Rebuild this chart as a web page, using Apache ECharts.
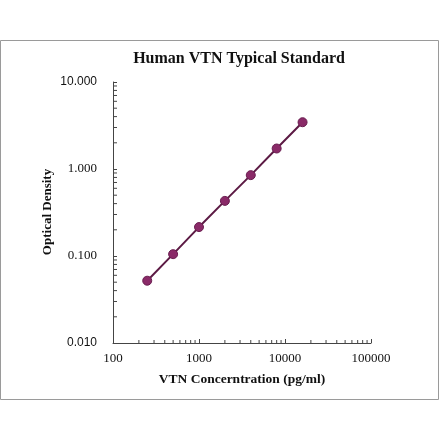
<!DOCTYPE html>
<html>
<head>
<meta charset="utf-8">
<script src="https://cdn.jsdelivr.net/npm/echarts@6/dist/echarts.min.js"></script>
<style>
html,body{margin:0;padding:0;background:#fff;}
#main{width:440px;height:441px;}
</style>
</head>
<body>
<div id="main"></div>
<script>
var concentrations = [250, 500, 1000, 2000, 4000, 8000, 16000];
var opticalDensity = [0.052, 0.105, 0.215, 0.43, 0.85, 1.72, 3.45];
var xMinorTicks = [200,300,400,500,600,700,800,900,2000,3000,4000,5000,6000,7000,8000,9000,20000,30000,40000,50000,60000,70000,80000,90000];
var yMinorTicks = [0.02,0.03,0.04,0.05,0.06,0.07,0.08,0.09,0.2,0.3,0.4,0.5,0.6,0.7,0.8,0.9,2,3,4,5,6,7,8,9];
var sansLabels = [10, 0.01];
var yAxisTitle = 'Optical Density';

var chart = echarts.init(document.getElementById('main'));
var serif = 'Liberation Serif';
var sans = 'Liberation Sans';

function renderMinorTicks(params, api){
  var children = [];
  xMinorTicks.forEach(function(v){
    var p = api.coord([v, 0.01]);
    children.push({type:'line', shape:{x1:p[0], y1:p[1], x2:p[0], y2:p[1]-3}, style:{stroke:'#444', lineWidth:1}});
  });
  yMinorTicks.forEach(function(v){
    var p = api.coord([100, v]);
    children.push({type:'line', shape:{x1:p[0], y1:p[1], x2:p[0]+4, y2:p[1]}, style:{stroke:'#444', lineWidth:1}});
  });
  return {type:'group', children:children};
}

chart.setOption({
  animation:false,
  backgroundColor:'#fff',
  title:{
    text:'Human VTN Typical Standard',
    left:234, top:46, textAlign:'center',
    textStyle:{fontFamily:serif, fontWeight:'bold', fontSize:16, color:'#111'}
  },
  graphic:[
    {type:'rect', shape:{x:0.5, y:40.5, width:438, height:359}, style:{fill:'none', stroke:'#9a9a9a', lineWidth:1}, silent:true, z:-1},
    {type:'text', x:48, y:212, rotation:Math.PI/2, silent:true,
     style:{text:yAxisTitle, font:'bold 13px "Liberation Serif"', fill:'#111',
            align:'center', verticalAlign:'middle', textAlign:'center', textVerticalAlign:'middle'}}
  ],
  grid:{left:113, right:69, top:82, bottom:98},
  xAxis:{
    type:'log', logBase:10, min:100, max:100000,
    name:'VTN Concerntration (pg/ml)', nameLocation:'middle', nameGap:30, nameMoveOverlap:false,
    nameTextStyle:{fontFamily:serif, fontWeight:'bold', fontSize:13.5, color:'#111'},
    axisLine:{lineStyle:{color:'#444', width:1}},
    axisTick:{show:true, inside:true, length:4, lineStyle:{color:'#444'}},
    axisLabel:{fontFamily:serif, fontSize:13, color:'#111', margin:9,
      formatter:function(v){ return String(Math.round(v)); }},
    splitLine:{show:false}
  },
  yAxis:{
    type:'log', logBase:10, min:0.01, max:10,
    axisLine:{show:true, lineStyle:{color:'#444', width:1}},
    axisTick:{show:true, inside:true, length:4, lineStyle:{color:'#444'}},
    axisLabel:{
      margin:16, color:'#111',
      formatter:function(v){
        var s = v.toFixed(3);
        var isSans = sansLabels.some(function(t){return Math.abs(t - v) < 1e-9;});
        return isSans ? '{s|' + s + '}' : '{t|' + s + '}';
      },
      rich:{
        s:{fontFamily:sans, fontSize:12, color:'#111'},
        t:{fontFamily:serif, fontSize:13, color:'#111'}
      }
    },
    splitLine:{show:false}
  },
  series:[
    {
      type:'custom', silent:true, clip:false,
      renderItem:renderMinorTicks,
      data:[[100, 0.01]],
      z:1
    },
    {
      type:'line',
      data:concentrations.map(function(c,i){return [c, opticalDensity[i]];}),
      symbol:'circle', symbolSize:9,
      itemStyle:{color:'#8a2a68', borderColor:'#6a1e50', borderWidth:1},
      lineStyle:{color:'#5c1a44', width:2},
      z:3
    }
  ]
});
</script>
</body>
</html>
